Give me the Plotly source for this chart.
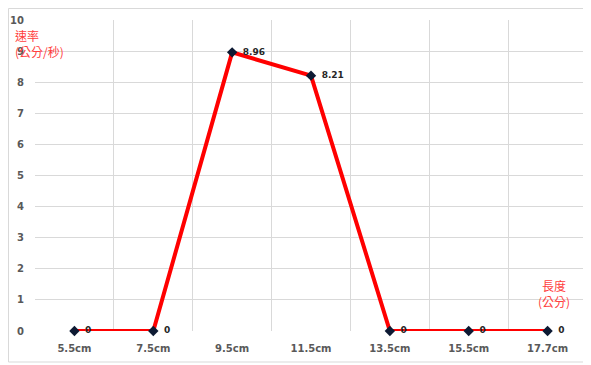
import plotly.graph_objects as go

categories = ["5.5cm", "7.5cm", "9.5cm", "11.5cm", "13.5cm", "15.5cm", "17.7cm"]
speeds = [0, 0, 8.96, 8.21, 0, 0, 0]
labels = ["0", "0", "8.96", "8.21", "0", "0", "0"]
y_ticks = [0, 1, 2, 3, 4, 5, 6, 7, 8, 9, 10]

fig = go.Figure()
fig.add_trace(go.Scatter(
    x=categories, y=speeds, mode="lines+markers+text",
    line=dict(color="#FF0000", width=4),
    marker=dict(symbol="diamond", size=8, color="#0D1A33"),
    text=labels, textposition="middle right",
    textfont=dict(family="DejaVu Sans", size=9, color="#262626"),
    texttemplate=" \u2009<b>%{text}</b>",
    cliponaxis=False,
))

tickfont = dict(family="DejaVu Sans", size=10, color="#595959", weight="bold")

fig.update_layout(
    width=583, height=357,
    margin=dict(l=27, r=4, t=12, b=34),
    paper_bgcolor="white", plot_bgcolor="white",
    showlegend=False,
    xaxis=dict(
        type="category", tickson="boundaries", showgrid=True,
        gridcolor="#D9D9D9", gridwidth=1, ticks="",
        tickfont=tickfont, automargin=False,
        showline=False, zeroline=False, ticklabelstandoff=10,
        range=[-0.5, 6.5],
    ),
    yaxis=dict(
        range=[0, 10], tickvals=y_ticks, showgrid=True,
        gridcolor="#D9D9D9", gridwidth=1, ticks="",
        tickfont=tickfont, automargin=False,
        zeroline=False, showline=False, ticklabelstandoff=10,
    ),
    shapes=[dict(type="rect", xref="paper", yref="paper",
                 x0=-0.048, x1=1.01, y0=-0.0997, y1=1.037,
                 line=dict(color="#D9D9D9", width=1))],
    annotations=[
        dict(text="速率<br>(公分/秒)", xref="paper", yref="paper", x=-0.04, y=0.985,
             xanchor="left", yanchor="top", showarrow=False, align="left",
             font=dict(family="Noto Sans CJK TC", size=12, color="#FF4040")),
        dict(text="長度<br>(公分)", xref="paper", yref="paper", x=0.94, y=0.18,
             xanchor="center", yanchor="top", showarrow=False, align="center",
             font=dict(family="Noto Sans CJK TC", size=12, color="#FF4040")),
    ],
)

fig.write_html("out.html")
